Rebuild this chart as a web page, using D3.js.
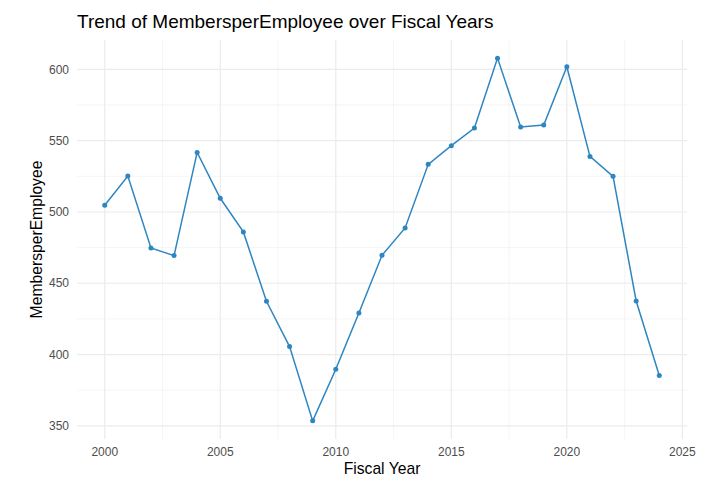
<!DOCTYPE html>
<html lang="en">
<head>
    <meta charset="UTF-8">
    <title>Trend of MembersperEmployee over Fiscal Years</title>
    <script src="https://d3js.org/d3.v7.min.js"></script>
    <style>
        body {
            margin: 0;
            padding: 0;
            background: #fff;
            font-family: "Liberation Sans", Arial, sans-serif;
            overflow: hidden;
        }
        .grid-major line { stroke: #EBEBEB; stroke-width: 1.2px; }
        .grid-minor line { stroke: #EFEFEF; stroke-width: 0.6px; }
        .tick-label { fill: #4D4D4D; font-size: 12px; }
        .axis-title { fill: #000; font-size: 15.7px; }
        .chart-title { fill: #000; font-size: 19px; }
    </style>
</head>
<body>
<div id="chart"></div>
<script>
    // data
    const years = [2000, 2001, 2002, 2003, 2004, 2005, 2006, 2007, 2008, 2009, 2010, 2011, 2012,
                   2013, 2014, 2015, 2016, 2017, 2018, 2019, 2020, 2021, 2022, 2023, 2024];
    const membersPerEmployee = [504.7, 525.2, 474.8, 469.4, 541.8, 509.6, 486.0, 437.4, 405.6, 353.5, 389.7, 429.2, 469.6,
                                488.8, 533.4, 546.5, 558.9, 607.9, 559.6, 561.0, 601.9, 539.0, 525.0, 437.6, 385.3];
    const xTicks = [2000, 2005, 2010, 2015, 2020, 2025];
    const yTicks = [350, 400, 450, 500, 550, 600];
    const xMinor = [2002.5, 2007.5, 2012.5, 2017.5, 2022.5];
    const yMinor = [375, 425, 475, 525, 575];

    const W = 720, H = 488;
    const panel = { left: 77, right: 687, top: 40, bottom: 439 };

    const data = years.map((y, i) => ({ year: y, value: membersPerEmployee[i] }));

    const svg = d3.select("#chart").append("svg")
        .attr("width", W)
        .attr("height", H);

    // ggplot style 5% expansion
    const xExt = d3.extent(years);
    const xPad = (xExt[1] - xExt[0]) * 0.05;
    const yExt = d3.extent(membersPerEmployee);
    const yPad = (yExt[1] - yExt[0]) * 0.05;

    const x = d3.scaleLinear()
        .domain([xExt[0] - xPad, xExt[1] + xPad])
        .range([panel.left, panel.right]);
    const y = d3.scaleLinear()
        .domain([yExt[0] - yPad, yExt[1] + yPad])
        .range([panel.bottom, panel.top]);

    // minor grid
    const minor = svg.append("g").attr("class", "grid-minor");
    minor.selectAll(".vx").data(xMinor).enter().append("line")
        .attr("x1", d => x(d)).attr("x2", d => x(d))
        .attr("y1", panel.top).attr("y2", panel.bottom);
    minor.selectAll(".hy").data(yMinor).enter().append("line")
        .attr("x1", panel.left).attr("x2", panel.right)
        .attr("y1", d => y(d)).attr("y2", d => y(d));

    // major grid
    const major = svg.append("g").attr("class", "grid-major");
    major.selectAll(".vx").data(xTicks).enter().append("line")
        .attr("x1", d => x(d)).attr("x2", d => x(d))
        .attr("y1", panel.top).attr("y2", panel.bottom);
    major.selectAll(".hy").data(yTicks).enter().append("line")
        .attr("x1", panel.left).attr("x2", panel.right)
        .attr("y1", d => y(d)).attr("y2", d => y(d));

    // tick labels
    svg.append("g").selectAll("text").data(xTicks).enter().append("text")
        .attr("class", "tick-label")
        .attr("x", d => x(d))
        .attr("y", 456)
        .attr("text-anchor", "middle")
        .text(d => d);

    svg.append("g").selectAll("text").data(yTicks).enter().append("text")
        .attr("class", "tick-label")
        .attr("x", 69)
        .attr("y", d => y(d))
        .attr("dy", "0.35em")
        .attr("text-anchor", "end")
        .text(d => d);

    // line + points
    const line = d3.line()
        .x(d => x(d.year))
        .y(d => y(d.value));

    svg.append("path")
        .datum(data)
        .attr("d", line)
        .attr("fill", "none")
        .attr("stroke", "#2E86C1")
        .attr("stroke-width", 1.5);

    svg.append("g").selectAll("circle").data(data).enter().append("circle")
        .attr("cx", d => x(d.year))
        .attr("cy", d => y(d.value))
        .attr("r", 2.5)
        .attr("fill", "#2E86C1");

    // titles
    svg.append("text")
        .attr("class", "axis-title")
        .attr("x", (panel.left + panel.right) / 2)
        .attr("y", 474)
        .attr("text-anchor", "middle")
        .text("Fiscal Year");

    svg.append("text")
        .attr("class", "axis-title")
        .attr("transform", `translate(42,${(panel.top + panel.bottom) / 2}) rotate(-90)`)
        .attr("text-anchor", "middle")
        .text("MembersperEmployee");

    svg.append("text")
        .attr("class", "chart-title")
        .attr("x", panel.left)
        .attr("y", 28)
        .text("Trend of MembersperEmployee over Fiscal Years");
</script>
</body>
</html>
